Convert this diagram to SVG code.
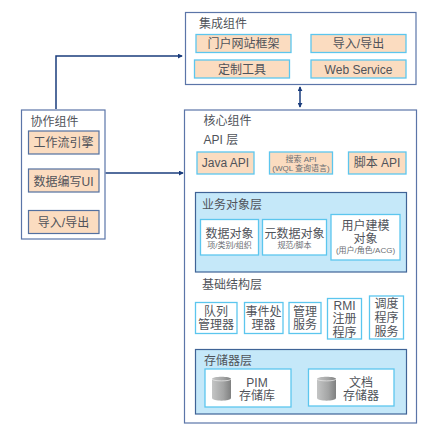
<svg xmlns="http://www.w3.org/2000/svg" width="425" height="436" viewBox="0 0 425 436">
<style>
text{font-family:"Liberation Sans","Noto Sans CJK SC",sans-serif;fill:#50535a;text-anchor:middle}
.t{font-size:12px}.h{font-size:12px;text-anchor:start}.s{font-size:8px;fill:#6a6d72}
.outer{fill:#fff;stroke:#5b75a8;stroke-width:1.2}
.or{fill:#fbdcc0;stroke:#5cc6ee;stroke-width:1.3}
.orl{fill:#fbdcc0;stroke:#54709f;stroke-width:1.2}
.w{fill:#fff;stroke:#5cc6ee;stroke-width:1.3}
.layer{fill:#c5e8f9;stroke:#3f6396;stroke-width:1.2}
.c{stroke:#1a3c7c;stroke-width:1.5;fill:none}
</style>
<defs>
<marker id="a" viewBox="0 0 6 6" refX="5" refY="3" markerWidth="5" markerHeight="5" markerUnits="userSpaceOnUse" orient="auto-start-reverse"><path d="M0 0L6 3L0 6z" fill="#1a3c7c"/></marker>
<linearGradient id="g" x1="0" x2="1" y1="0" y2="0"><stop offset="0" stop-color="#c4c5c5"/><stop offset=".6" stop-color="#a3a4a4"/><stop offset="1" stop-color="#7f8080"/></linearGradient>
<g id="cyl"><path d="M0 3C0 0 19 0 19 3V22C19 25.500 0 25.500 0 22Z" fill="url(#g)"/><path d="M0 3C0 5.500 19 5.500 19 3" fill="none" stroke="#e4e4e4" stroke-width=".8"/></g>
</defs>
<g id="connectors">
<path class="c" d="M56 109V56H182" marker-end="url(#a)"/>
<path class="c" d="M105.500 173H183" marker-end="url(#a)"/>
<path class="c" d="M300 87V107" marker-start="url(#a)" marker-end="url(#a)"/>
</g>
<g id="integration">
<rect class="outer" x="185.500" y="12.500" width="230.500" height="72"/>
<text class="h" x="199" y="28">集成组件</text>
<rect class="or" x="196" y="34.500" width="95" height="18"/><text class="t" x="243.500" y="48">门户网站框架</text>
<rect class="or" x="311" y="34.500" width="95" height="18"/><text class="t" x="358.500" y="48">导入/导出</text>
<rect class="or" x="194.500" y="60" width="95" height="18"/><text class="t" x="242" y="73.500">定制工具</text>
<rect class="or" x="311" y="60" width="95" height="18"/><text class="t" x="358.500" y="73.500">Web Service</text>
</g>
<g id="collaboration">
<rect class="outer" x="21.500" y="110" width="83.500" height="129"/>
<text class="h" x="30.500" y="125.500">协作组件</text>
<rect class="orl" x="28.500" y="131" width="70.500" height="23"/><text class="t" x="63.500" y="147">工作流引擎</text>
<rect class="orl" x="28.500" y="169" width="70.500" height="23"/><text class="t" x="63.500" y="186">数据编写UI</text>
<rect class="orl" x="28.500" y="210.500" width="70.500" height="23"/><text class="t" x="63.500" y="227">导入/导出</text>
</g>
<g id="core">
<rect class="outer" x="184.500" y="110" width="232" height="313"/>
<text class="h" x="203.500" y="125">核心组件</text>
<text class="h" x="203.500" y="144">API 层</text>
</g>
<g id="api">
<rect class="or" x="197" y="152" width="57" height="22"/><text class="t" x="225.500" y="166.500">Java API</text>
<rect class="or" x="269.500" y="152" width="63" height="22"/><text class="s" x="301" y="161.500">搜索 API</text><text class="s" x="301" y="170.800">(WQL 查询语言)</text>
<rect class="or" x="348.500" y="152" width="57.500" height="22"/><text class="t" x="377" y="166.500">脚本 API</text>
</g>
<g id="business">
<rect class="layer" x="195.500" y="192.500" width="211" height="79.500"/>
<text class="h" x="202" y="209">业务对象层</text>
<rect class="w" x="200.500" y="219.500" width="58" height="35.500"/><text class="t" x="229.500" y="238">数据对象</text><text class="s" x="229.500" y="247.700">项/类别/组织</text>
<rect class="w" x="262.500" y="219.500" width="64" height="35.500"/><text class="t" x="294.500" y="238">元数据对象</text><text class="s" x="294.500" y="247.700">规范/脚本</text>
<rect class="w" x="331" y="214.500" width="69" height="45.500"/><text class="t" x="365.500" y="229.500">用户建模</text><text class="t" x="365.500" y="243.300">对象</text><text class="s" x="365.500" y="253">(用户/角色/ACG)</text>
</g>
<g id="infrastructure">
<text class="h" x="202" y="289">基础结构层</text>
<rect class="w" x="195.500" y="302.500" width="41.500" height="31"/><text class="t" x="216" y="315.500">队列</text><text class="t" x="216" y="329.300">管理器</text>
<rect class="w" x="244.500" y="302.500" width="38.500" height="31"/><text class="t" x="263.500" y="315.500">事件处</text><text class="t" x="263.500" y="329.300">理器</text>
<rect class="w" x="289" y="302.500" width="32" height="31"/><text class="t" x="305" y="315.500">管理</text><text class="t" x="305" y="329.300">服务</text>
<rect class="w" x="327.500" y="298.500" width="34" height="40.500"/><text class="t" x="344.500" y="309.500">RMI</text><text class="t" x="344.500" y="323.300">注册</text><text class="t" x="344.500" y="337.100">程序</text>
<rect class="w" x="369.500" y="296" width="34" height="43"/><text class="t" x="386.500" y="308">调度</text><text class="t" x="386.500" y="321.800">程序</text><text class="t" x="386.500" y="335.600">服务</text>
</g>
<g id="storage">
<rect class="layer" x="195.500" y="349.500" width="211" height="64.500"/>
<text class="h" x="204" y="364.500">存储器层</text>
<rect class="w" x="205" y="369" width="86" height="38"/><use href="#cyl" x="212" y="376"/><text class="t" x="257" y="386.500">PIM</text><text class="t" x="257" y="400.300">存储库</text>
<rect class="w" x="308.500" y="369" width="85.500" height="37"/><use href="#cyl" x="317" y="376"/><text class="t" x="361" y="386.500">文档</text><text class="t" x="361" y="400.300">存储器</text>
</g>
</svg>
